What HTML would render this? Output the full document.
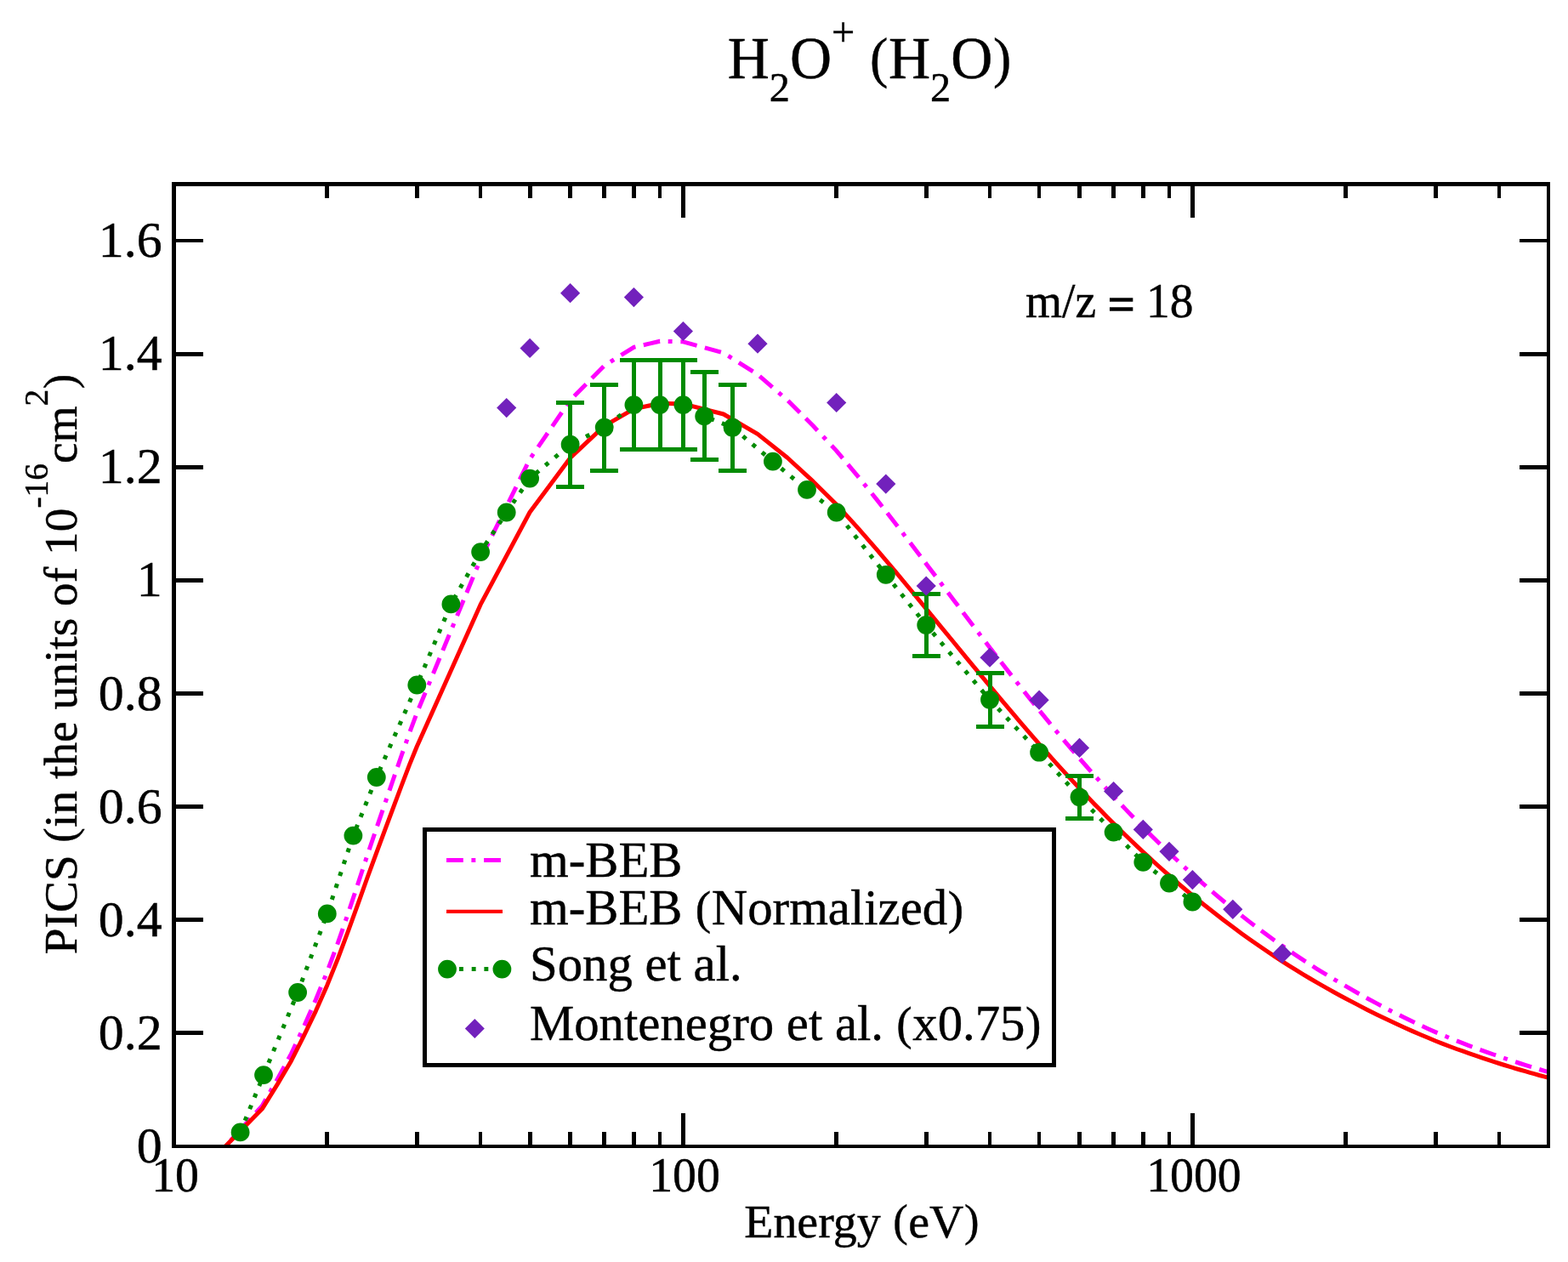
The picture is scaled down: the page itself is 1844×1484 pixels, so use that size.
<!DOCTYPE html>
<html lang="en"><head><meta charset="utf-8"><title>H2O+ (H2O) partial ionization cross section</title>
<style>html,body{margin:0;padding:0;background:#fff;}body{width:1844px;height:1484px;overflow:hidden;}svg{display:block;}text{white-space:pre;}</style>
</head><body>
<svg width="1844" height="1484" viewBox="0 0 1844 1484">
<rect width="1844" height="1484" fill="#fff"/>
<defs><clipPath id="cp"><rect x="204.5" y="216.6" width="1616.5" height="1131.4"/></clipPath></defs>
<g clip-path="url(#cp)">
<polyline points="265.0,1348.0 308.2,1300.4 326.8,1267.9 342.5,1239.1 357.4,1207.0 371.5,1175.3 384.8,1142.6 397.5,1108.4 409.6,1073.3 421.2,1038.5 432.2,1005.0 442.8,973.7 453.0,944.0 462.9,915.3 472.3,888.0 481.4,862.2 490.3,838.4 565.1,657.6 623.1,539.8 670.6,470.6 710.7,430.0 745.4,408.3 776.0,401.3 803.4,401.8 850.9,415.0 891.0,440.3 925.7,470.2 956.3,500.8 983.7,530.1 1008.5,559.6 1031.2,587.6 1052.0,614.2 1071.2,639.3 1089.2,662.9 1106.0,685.1 1121.8,705.9 1136.6,725.5 1150.7,744.1 1164.0,761.5 1176.7,777.9 1188.8,793.4 1200.4,808.1 1211.4,822.0 1222.1,835.2 1232.3,847.7 1242.1,859.6 1251.5,870.8 1260.7,881.6 1269.5,891.8 1278.0,901.5 1286.3,910.9 1294.3,919.8 1302.0,928.4 1309.6,936.5 1316.9,944.4 1324.0,951.9 1331.0,959.2 1337.7,966.1 1344.3,972.8 1350.7,979.3 1357.0,985.5 1363.1,991.5 1369.1,997.2 1375.0,1002.9 1380.7,1008.3 1386.3,1013.5 1391.7,1018.5 1397.1,1023.4 1402.4,1028.2 1415.1,1039.4 1427.2,1049.8 1438.7,1059.5 1449.8,1068.5 1460.4,1076.9 1470.6,1084.9 1480.4,1092.3 1489.9,1099.3 1499.0,1105.9 1507.8,1112.1 1516.4,1118.1 1524.6,1123.6 1532.6,1128.9 1540.4,1133.9 1547.9,1138.8 1555.3,1143.3 1562.4,1147.7 1569.3,1151.9 1576.1,1155.9 1582.7,1159.7 1595.4,1167.0 1607.5,1173.7 1619.0,1179.9 1630.1,1185.8 1640.7,1191.2 1650.9,1196.2 1660.7,1201.0 1670.2,1205.5 1679.3,1209.7 1688.1,1213.6 1696.7,1217.2 1704.9,1220.6 1712.9,1223.9 1720.7,1226.9 1728.2,1229.8 1735.6,1232.5 1742.7,1235.2 1749.6,1237.6 1756.4,1240.0 1763.0,1242.3 1769.4,1244.5 1775.6,1246.6 1781.8,1248.6 1787.7,1250.5 1793.6,1252.4 1799.3,1254.2 1804.9,1255.8 1810.4,1257.5 1815.7,1259.1 1821.0,1260.6" fill="none" stroke="#ff00ff" stroke-width="5.0" stroke-linejoin="round" stroke-dasharray="19.8 9.6 4.9 9.8 19.8 9.6" stroke-dashoffset="20"/>
<polyline points="265.0,1348.0 308.2,1304.1 326.8,1274.1 342.5,1247.5 357.4,1217.9 371.5,1188.6 384.8,1158.4 397.5,1126.9 409.6,1094.5 421.2,1062.4 432.2,1031.5 442.8,1002.6 453.0,975.2 462.9,948.7 472.3,923.5 481.4,899.7 490.3,877.8 565.1,710.9 623.1,602.2 670.6,538.4 710.7,500.8 745.4,480.9 776.0,474.3 803.4,474.9 850.9,487.0 891.0,510.4 925.7,538.0 956.3,566.2 983.7,593.3 1008.5,620.4 1031.2,646.3 1052.0,670.8 1071.2,694.0 1089.2,715.8 1106.0,736.3 1121.8,755.5 1136.6,773.6 1150.7,790.7 1164.0,806.7 1176.7,821.9 1188.8,836.2 1200.4,849.8 1211.4,862.6 1222.1,874.8 1232.3,886.3 1242.1,897.3 1251.5,907.6 1260.7,917.6 1269.5,927.0 1278.0,936.0 1286.3,944.7 1294.3,952.8 1302.0,960.8 1309.6,968.3 1316.9,975.5 1324.0,982.5 1331.0,989.2 1337.7,995.6 1344.3,1001.8 1350.7,1007.7 1357.0,1013.5 1363.1,1019.0 1369.1,1024.3 1375.0,1029.5 1380.7,1034.5 1386.3,1039.3 1391.7,1044.0 1397.1,1048.5 1402.4,1052.9 1415.1,1063.3 1427.2,1072.8 1438.7,1081.8 1449.8,1090.1 1460.4,1097.9 1470.6,1105.2 1480.4,1112.0 1489.9,1118.5 1499.0,1124.6 1507.8,1130.4 1516.4,1135.8 1524.6,1140.9 1532.6,1145.8 1540.4,1150.5 1547.9,1154.9 1555.3,1159.1 1562.4,1163.2 1569.3,1167.0 1576.1,1170.7 1582.7,1174.2 1595.4,1180.9 1607.5,1187.2 1619.0,1192.9 1630.1,1198.3 1640.7,1203.3 1650.9,1208.0 1660.7,1212.4 1670.2,1216.5 1679.3,1220.3 1688.1,1224.0 1696.7,1227.3 1704.9,1230.5 1712.9,1233.5 1720.7,1236.2 1728.2,1238.9 1735.6,1241.4 1742.7,1243.9 1749.6,1246.2 1756.4,1248.4 1763.0,1250.5 1769.4,1252.5 1775.6,1254.4 1781.8,1256.3 1787.7,1258.0 1793.6,1259.7 1799.3,1261.4 1804.9,1262.9 1810.4,1264.5 1815.7,1265.9 1821.0,1267.3" fill="none" stroke="#ff0000" stroke-width="5.0" stroke-linejoin="round"/>
<polyline points="282.6,1331.4 310.0,1264.1 350.1,1167.0 384.8,1074.4 415.4,982.6 442.8,914.0 490.3,805.5 530.4,710.4 565.1,649.1 595.7,602.5 623.1,562.6 670.6,522.7 710.7,502.7 745.4,476.1 776.0,476.1 803.4,476.1 828.2,489.4 861.5,502.7 908.9,542.6 949.0,575.9 983.7,602.5 1041.8,675.8 1089.2,735.0 1164.0,822.8 1222.1,884.7 1269.5,937.3 1309.6,978.6 1344.3,1013.9 1375.0,1038.5 1402.4,1060.5" fill="none" stroke="#008b00" stroke-width="5.0" stroke-linejoin="round" stroke-dasharray="4.9 9.8"/>
</g>
<path d="M670.6,473.1V572.2M654.1,473.1H687.1M654.1,572.2H687.1" stroke="#008b00" stroke-width="5" fill="none" shape-rendering="crispEdges"/>
<path d="M710.7,452.0V553.4M694.2,452.0H727.2M694.2,553.4H727.2" stroke="#008b00" stroke-width="5" fill="none" shape-rendering="crispEdges"/>
<path d="M745.4,423.8V528.4M728.9,423.8H761.9M728.9,528.4H761.9" stroke="#008b00" stroke-width="5" fill="none" shape-rendering="crispEdges"/>
<path d="M776.0,423.8V528.4M759.5,423.8H792.5M759.5,528.4H792.5" stroke="#008b00" stroke-width="5" fill="none" shape-rendering="crispEdges"/>
<path d="M803.4,423.8V528.4M786.9,423.8H819.9M786.9,528.4H819.9" stroke="#008b00" stroke-width="5" fill="none" shape-rendering="crispEdges"/>
<path d="M828.2,437.9V540.9M811.7,437.9H844.7M811.7,540.9H844.7" stroke="#008b00" stroke-width="5" fill="none" shape-rendering="crispEdges"/>
<path d="M861.5,452.0V553.4M845.0,452.0H878.0M845.0,553.4H878.0" stroke="#008b00" stroke-width="5" fill="none" shape-rendering="crispEdges"/>
<path d="M1089.2,698.2V771.8M1072.7,698.2H1105.7M1072.7,771.8H1105.7" stroke="#008b00" stroke-width="5" fill="none" shape-rendering="crispEdges"/>
<path d="M1164.0,791.3V854.4M1147.5,791.3H1180.5M1147.5,854.4H1180.5" stroke="#008b00" stroke-width="5" fill="none" shape-rendering="crispEdges"/>
<path d="M1269.5,912.7V962.0M1253.0,912.7H1286.0M1253.0,962.0H1286.0" stroke="#008b00" stroke-width="5" fill="none" shape-rendering="crispEdges"/>
<circle cx="282.6" cy="1331.4" r="10.9" fill="#008b00"/>
<circle cx="310.0" cy="1264.1" r="10.9" fill="#008b00"/>
<circle cx="350.1" cy="1167.0" r="10.9" fill="#008b00"/>
<circle cx="384.8" cy="1074.4" r="10.9" fill="#008b00"/>
<circle cx="415.4" cy="982.6" r="10.9" fill="#008b00"/>
<circle cx="442.8" cy="914.0" r="10.9" fill="#008b00"/>
<circle cx="490.3" cy="805.5" r="10.9" fill="#008b00"/>
<circle cx="530.4" cy="710.4" r="10.9" fill="#008b00"/>
<circle cx="565.1" cy="649.1" r="10.9" fill="#008b00"/>
<circle cx="595.7" cy="602.5" r="10.9" fill="#008b00"/>
<circle cx="623.1" cy="562.6" r="10.9" fill="#008b00"/>
<circle cx="670.6" cy="522.7" r="10.9" fill="#008b00"/>
<circle cx="710.7" cy="502.7" r="10.9" fill="#008b00"/>
<circle cx="745.4" cy="476.1" r="10.9" fill="#008b00"/>
<circle cx="776.0" cy="476.1" r="10.9" fill="#008b00"/>
<circle cx="803.4" cy="476.1" r="10.9" fill="#008b00"/>
<circle cx="828.2" cy="489.4" r="10.9" fill="#008b00"/>
<circle cx="861.5" cy="502.7" r="10.9" fill="#008b00"/>
<circle cx="908.9" cy="542.6" r="10.9" fill="#008b00"/>
<circle cx="949.0" cy="575.9" r="10.9" fill="#008b00"/>
<circle cx="983.7" cy="602.5" r="10.9" fill="#008b00"/>
<circle cx="1041.8" cy="675.8" r="10.9" fill="#008b00"/>
<circle cx="1089.2" cy="735.0" r="10.9" fill="#008b00"/>
<circle cx="1164.0" cy="822.8" r="10.9" fill="#008b00"/>
<circle cx="1222.1" cy="884.7" r="10.9" fill="#008b00"/>
<circle cx="1269.5" cy="937.3" r="10.9" fill="#008b00"/>
<circle cx="1309.6" cy="978.6" r="10.9" fill="#008b00"/>
<circle cx="1344.3" cy="1013.9" r="10.9" fill="#008b00"/>
<circle cx="1375.0" cy="1038.5" r="10.9" fill="#008b00"/>
<circle cx="1402.4" cy="1060.5" r="10.9" fill="#008b00"/>
<path d="M584.1,479.6L595.7,468.0L607.3,479.6L595.7,491.2Z" fill="#7221bc"/>
<path d="M611.5,409.4L623.1,397.8L634.7,409.4L623.1,421.0Z" fill="#7221bc"/>
<path d="M659.0,344.7L670.6,333.1L682.2,344.7L670.6,356.3Z" fill="#7221bc"/>
<path d="M733.8,349.6L745.4,338.0L757.0,349.6L745.4,361.2Z" fill="#7221bc"/>
<path d="M791.8,389.5L803.4,377.9L815.0,389.5L803.4,401.1Z" fill="#7221bc"/>
<path d="M879.4,404.2L891.0,392.6L902.6,404.2L891.0,415.8Z" fill="#7221bc"/>
<path d="M972.1,473.5L983.7,461.9L995.3,473.5L983.7,485.1Z" fill="#7221bc"/>
<path d="M1030.2,569.1L1041.8,557.5L1053.4,569.1L1041.8,580.7Z" fill="#7221bc"/>
<path d="M1077.6,689.0L1089.2,677.4L1100.8,689.0L1089.2,700.6Z" fill="#7221bc"/>
<path d="M1152.4,773.2L1164.0,761.6L1175.6,773.2L1164.0,784.8Z" fill="#7221bc"/>
<path d="M1210.5,823.2L1222.1,811.6L1233.7,823.2L1222.1,834.8Z" fill="#7221bc"/>
<path d="M1257.9,879.4L1269.5,867.8L1281.1,879.4L1269.5,891.0Z" fill="#7221bc"/>
<path d="M1298.0,930.5L1309.6,918.9L1321.2,930.5L1309.6,942.1Z" fill="#7221bc"/>
<path d="M1332.7,975.4L1344.3,963.8L1355.9,975.4L1344.3,987.0Z" fill="#7221bc"/>
<path d="M1363.4,1001.3L1375.0,989.7L1386.6,1001.3L1375.0,1012.9Z" fill="#7221bc"/>
<path d="M1390.8,1034.6L1402.4,1023.0L1414.0,1034.6L1402.4,1046.2Z" fill="#7221bc"/>
<path d="M1438.2,1069.3L1449.8,1057.7L1461.4,1069.3L1449.8,1080.9Z" fill="#7221bc"/>
<path d="M1496.2,1121.4L1507.8,1109.8L1519.4,1121.4L1507.8,1133.0Z" fill="#7221bc"/>
<g fill="#000" shape-rendering="crispEdges">
<rect x="202" y="214" width="5" height="1136"/>
<rect x="1819" y="214" width="4" height="1136"/>
<rect x="202" y="214" width="1621" height="5"/>
<rect x="202" y="1346" width="1621" height="4"/>
</g>
<g stroke="#000" stroke-width="4.8" fill="none" stroke-linecap="butt" shape-rendering="crispEdges">
<path d="M384.80,1346V1331M384.80,219V233M490.26,1346V1331M490.26,219V233M565.09,1346V1331M565.09,219V233M623.14,1346V1331M623.14,219V233M670.56,1346V1331M670.56,219V233M710.66,1346V1331M710.66,219V233M745.39,1346V1331M745.39,219V233M776.03,1346V1331M776.03,219V233M803.43,1346V1309M803.43,219V256M983.73,1346V1331M983.73,219V233M1089.20,1346V1331M1089.20,219V233M1164.03,1346V1331M1164.03,219V233M1222.07,1346V1331M1222.07,219V233M1269.49,1346V1331M1269.49,219V233M1309.59,1346V1331M1309.59,219V233M1344.32,1346V1331M1344.32,219V233M1374.96,1346V1331M1374.96,219V233M1402.36,1346V1309M1402.36,219V256M1582.66,1346V1331M1582.66,219V233M1688.13,1346V1331M1688.13,219V233M1762.96,1346V1331M1762.96,219V233M207,1214.88H239M1819,1214.88H1787M207,1081.76H239M1819,1081.76H1787M207,948.64H239M1819,948.64H1787M207,815.52H239M1819,815.52H1787M207,682.41H239M1819,682.41H1787M207,549.29H239M1819,549.29H1787M207,416.17H239M1819,416.17H1787M207,283.05H239M1819,283.05H1787"/>
</g>
<g font-family="'Liberation Serif', serif" fill="#000" stroke="#000" stroke-width="0.45">
<text transform="translate(190.60,1367.00) scale(1.02,1.022)" font-size="58.7" text-anchor="end">0</text>
<text transform="translate(190.60,1233.88) scale(1.02,1.022)" font-size="58.7" text-anchor="end">0.2</text>
<text transform="translate(190.60,1100.76) scale(1.02,1.022)" font-size="58.7" text-anchor="end">0.4</text>
<text transform="translate(190.60,967.64) scale(1.02,1.022)" font-size="58.7" text-anchor="end">0.6</text>
<text transform="translate(190.60,834.52) scale(1.02,1.022)" font-size="58.7" text-anchor="end">0.8</text>
<text transform="translate(190.60,701.41) scale(1.02,1.022)" font-size="58.7" text-anchor="end">1</text>
<text transform="translate(190.60,568.29) scale(1.02,1.022)" font-size="58.7" text-anchor="end">1.2</text>
<text transform="translate(190.60,435.17) scale(1.02,1.022)" font-size="58.7" text-anchor="end">1.4</text>
<text transform="translate(190.60,302.05) scale(1.02,1.022)" font-size="58.7" text-anchor="end">1.6</text>
<text transform="translate(206.10,1401.00) scale(1.0,1.022)" font-size="55.8" text-anchor="middle">10</text>
<text transform="translate(805.03,1401.00) scale(1.0,1.022)" font-size="55.8" text-anchor="middle">100</text>
<text transform="translate(1403.96,1401.00) scale(1.0,1.022)" font-size="55.8" text-anchor="middle">1000</text>
<text transform="translate(1013.35,1454.70)" font-size="55.9" text-anchor="middle">Energy <tspan font-size="52.55" dy="-1.31" dx="0.56">(</tspan><tspan dy="1.31" dx="0.56">eV</tspan><tspan font-size="52.55" dy="-1.31" dx="0.56">)</tspan></text>
<text transform="translate(89.60,1122.20) rotate(-90)" font-size="55.4" text-anchor="start">PICS <tspan font-size="52.08" dy="-1.30" dx="0.55">(</tspan><tspan dy="1.30" dx="0.55">in the units of 10</tspan><tspan font-size="39.33" dy="-33.24">-16</tspan><tspan dy="33.24">cm</tspan><tspan font-size="39.33" dy="-33.24">2</tspan><tspan font-size="52.08" dy="31.94" dx="0.55">)</tspan></text>
<text transform="translate(855.70,91.60) scale(1.0,1.012)" font-size="68" text-anchor="start">H<tspan font-size="48.28" dy="27.20">2</tspan><tspan dy="-27.20">O</tspan><tspan font-size="48.28" dy="-37.00">+</tspan><tspan dy="37.00"> </tspan><tspan font-size="63.92" dy="-1.60" dx="0.68">(</tspan><tspan dy="1.60" dx="0.68">H</tspan><tspan font-size="48.28" dy="27.20">2</tspan><tspan dy="-27.20">O</tspan><tspan font-size="63.92" dy="-1.60" dx="0.68">)</tspan></text>
<text transform="translate(1206.00,372.50) scale(1.0,1.02)" font-size="55.4" text-anchor="start">m/z <tspan dy="4.4" stroke-width="1.6">=</tspan><tspan dy="-4.4"> 18</tspan></text>
</g>
<rect x="499.5" y="975.5" width="740.0" height="276.5" fill="#fff" stroke="#000" stroke-width="5" shape-rendering="crispEdges"/>
<path d="M525,1011.4H591" stroke="#ff00ff" stroke-width="5" stroke-dasharray="19.8 9.6 4.9 9.8 19.8 9.6" fill="none"/>
<path d="M525,1071.9H591" stroke="#ff0000" stroke-width="4.4" fill="none"/>
<path d="M525.3,1139.6H590.4" stroke="#008b00" stroke-width="5.0" stroke-dasharray="4.9 9.8" fill="none"/>
<circle cx="526" cy="1139.6" r="10.9" fill="#008b00"/><circle cx="590.4" cy="1139.6" r="10.9" fill="#008b00"/>
<path d="M546.8,1209.5L558.3,1198.0L569.8,1209.5L558.3,1221.0Z" fill="#7221bc"/>
<g font-family="'Liberation Serif', serif" fill="#000" font-size="58.75" stroke="#000" stroke-width="0.45">
<text x="623" y="1031.1">m-BEB</text>
<text x="623" y="1086.9">m-BEB <tspan font-size="55.22" dy="-1.38" dx="0.59">(</tspan><tspan dy="1.38" dx="0.59">Normalized</tspan><tspan font-size="55.22" dy="-1.38" dx="0.59">)</tspan></text>
<text x="623" y="1153">Song et al.</text>
<text x="623" y="1222.9">Montenegro et al. <tspan font-size="55.22" dy="-1.38" dx="0.59">(</tspan><tspan dy="1.38" dx="0.59">x0.75</tspan><tspan font-size="55.22" dy="-1.38" dx="0.59">)</tspan></text>
</g>
</svg>
</body></html>
